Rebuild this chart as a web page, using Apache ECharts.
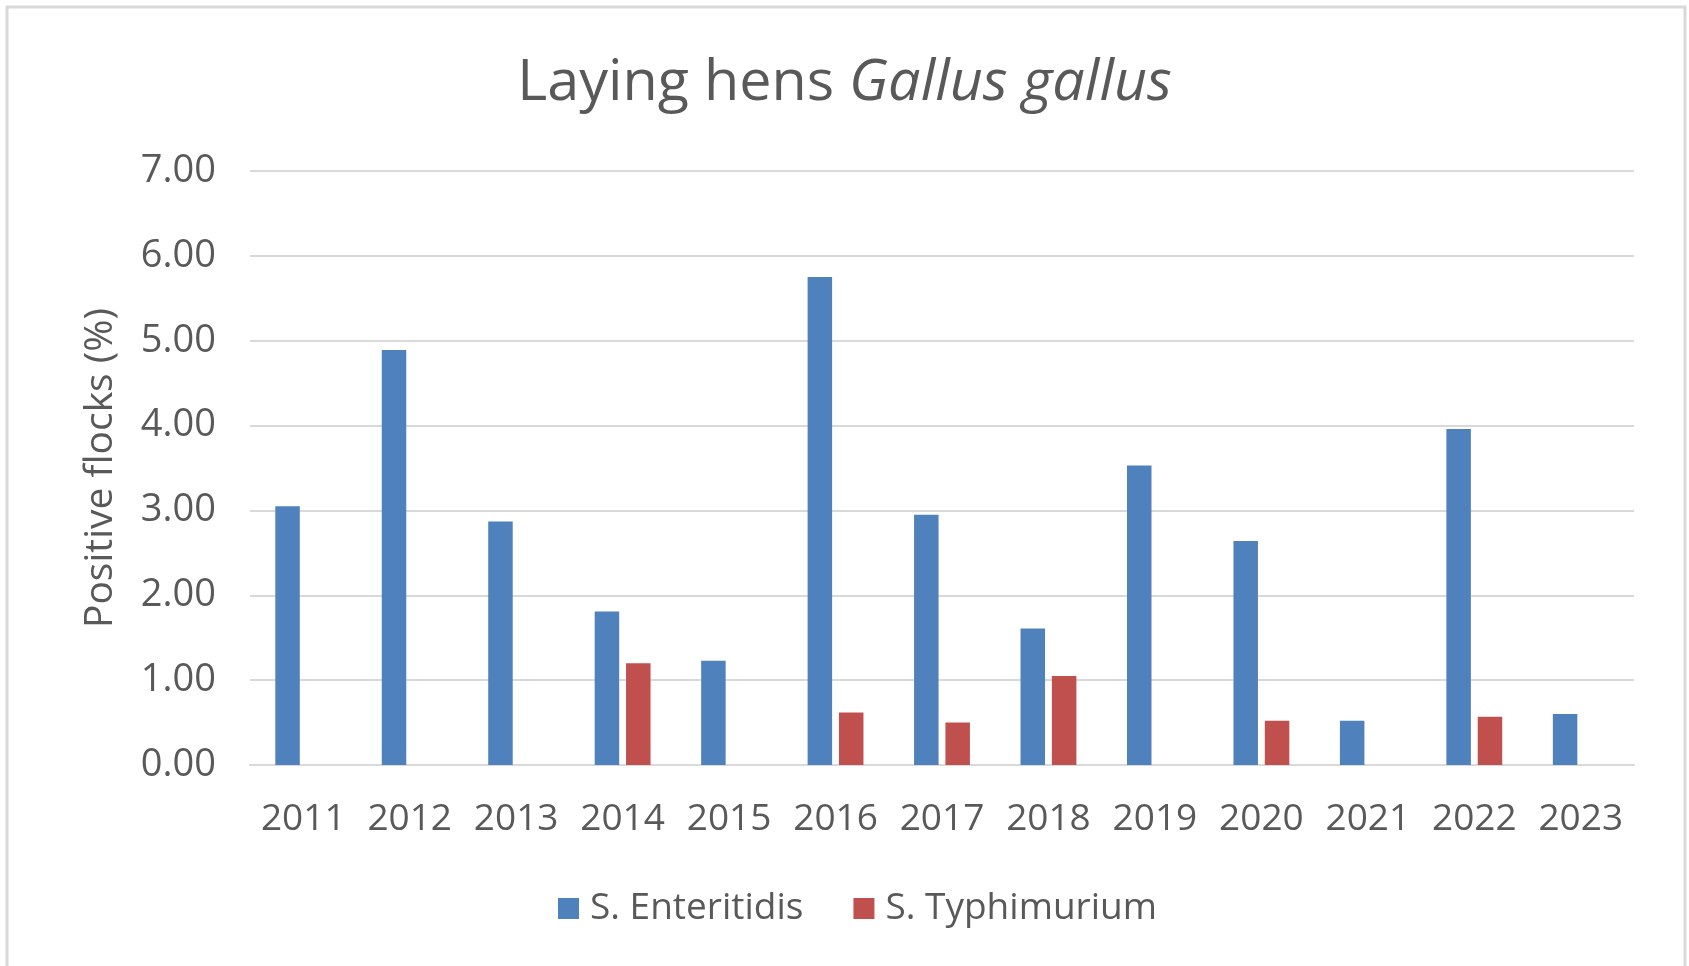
<!DOCTYPE html>
<html>
<head>
<meta charset="utf-8">
<script src="https://cdn.jsdelivr.net/npm/echarts@6/dist/echarts.min.js"></script>
<style>
html,body{margin:0;padding:0;background:#fff;}
#chart{width:1689px;height:966px;}
</style>
</head>
<body>
<div id="chart"></div>
<script>
const categories = ['2011','2012','2013','2014','2015','2016','2017','2018','2019','2020','2021','2022','2023'];
const enteritidis = [3.05, 4.89, 2.87, 1.81, 1.23, 5.75, 2.95, 1.61, 3.53, 2.64, 0.52, 3.96, 0.60];
const typhimurium = [null, null, null, 1.20, null, 0.62, 0.50, 1.05, null, 0.52, null, 0.57, null];
const yTicks = { min: 0, max: 7, interval: 1 };

const FONT = '"Open Sans", sans-serif';
const TXT = '#595959';

const chart = echarts.init(document.getElementById('chart'));
chart.setOption({
  backgroundColor: '#ffffff',
  animation: false,
  graphic: [{
    type: 'rect',
    shape: { x: 7, y: 7, width: 1678, height: 975 },
    style: { fill: 'none', stroke: '#d9d9d9', lineWidth: 3 },
    silent: true
  }],
  title: {
    text: '{a|Laying hens }{b|Gallus gallus}',
    left: 'center',
    top: 50,
    textStyle: {
      fontWeight: 'normal',
      rich: {
        a: { fontFamily: FONT, fontSize: 57.5, color: TXT, fontStyle: 'normal', fontWeight: 'normal' },
        b: { fontFamily: FONT, fontSize: 57.5, color: TXT, fontStyle: 'italic', fontWeight: 'normal' }
      }
    }
  },
  legend: {
    data: ['S. Enteritidis', 'S. Typhimurium'],
    left: 553,
    top: 885,
    itemWidth: 21,
    itemHeight: 21,
    itemGap: 50,
    icon: 'rect',
    textStyle: { fontFamily: FONT, fontSize: 37, color: TXT, padding: [0, 0, 0, 6] }
  },
  grid: { left: 250, right: 55, top: 171, bottom: 201, containLabel: false },
  xAxis: {
    type: 'category',
    data: categories,
    axisLine: { lineStyle: { color: '#d9d9d9', width: 2 } },
    axisTick: { show: false },
    axisLabel: { fontFamily: FONT, fontSize: 37, color: TXT, margin: 36, interval: 0 }
  },
  yAxis: {
    type: 'value',
    min: yTicks.min,
    max: yTicks.max,
    interval: yTicks.interval,
    name: 'Positive flocks (%)',
    nameLocation: 'middle',
    nameGap: 130,
    nameTextStyle: { fontFamily: FONT, fontSize: 39, color: TXT },
    axisLine: { show: false },
    axisTick: { show: false },
    splitLine: { lineStyle: { color: '#d9d9d9', width: 2 } },
    axisLabel: {
      fontFamily: FONT, fontSize: 38, color: TXT, margin: 34,
      formatter: v => v.toFixed(2)
    }
  },
  series: [
    {
      name: 'S. Enteritidis',
      type: 'bar',
      data: enteritidis,
      barWidth: 24.5,
      barGap: '28%',
      itemStyle: { color: '#4F81BD' }
    },
    {
      name: 'S. Typhimurium',
      type: 'bar',
      data: typhimurium,
      barWidth: 24.5,
      barGap: '28%',
      itemStyle: { color: '#C0504D' }
    }
  ]
});
</script>
</body>
</html>
